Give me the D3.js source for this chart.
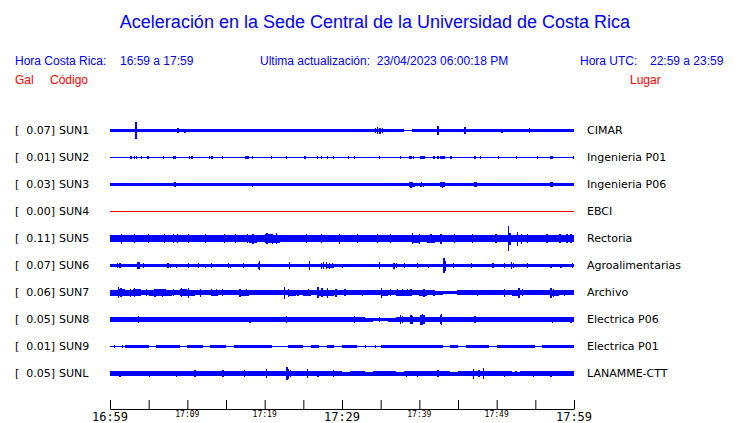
<!DOCTYPE html>
<html>
<head>
<meta charset="utf-8">
<script src="https://cdn.jsdelivr.net/npm/d3@7"></script>
<style>
  body { margin: 0; background: #fff; }
  svg { display: block; }
</style>
</head>
<body>
<div id="chart"></div>
<script>
// stations, peak acceleration and site names
const stations = ["SUN1", "SUN2", "SUN3", "SUN4", "SUN5", "SUN6", "SUN7", "SUN8", "SUN9", "SUNL"];
const peaks = [0.07, 0.01, 0.03, 0.00, 0.11, 0.07, 0.06, 0.05, 0.01, 0.05];
const places = ["CIMAR", "Ingenieria P01", "Ingenieria P06", "EBCI", "Rectoria",
  "Agroalimentarias", "Archivo", "Electrica P06", "Electrica P01", "LANAMME-CTT"];

// time axis (minutes after 16:59)
const tickMinutes = [0, 5, 10, 15, 20, 25, 30, 35, 40, 45, 50, 55, 60];
const tickLabels = [[0, "16:59", true], [10, "17:09", false], [20, "17:19", false],
  [30, "17:29", true], [40, "17:39", false], [50, "17:49", false], [60, "17:59", true]];

// per-minute amplitude envelope of each trace (relative counts)
const env1 = [14,15,16,15,16,16,15,16,16,16, 16,15,16,16,15,16,16,16,15,16, 16,15,16,16,16,15,16,16,16,15,
  16,16,15,16,17,17,16,15,5,16, 16,16,17,16,16,17,16,16,16,15, 16,16,16,15,16,16,15,16,16,16];
const env2 = [5,5,5,5,5,5,5,5,5,5, 5,5,5,5,5,5,5,5,5,5, 5,5,5,5,5,5,5,5,5,5,
  5,5,5,5,5,5,5,5,5,5, 5,5,5,5,5,5,5,5,5,5, 5,5,5,5,5,5,5,5,5,5];
const env3 = [14,14,13,14,14,14,13,14,14,14, 14,14,13,14,14,14,14,13,14,14, 14,14,14,13,14,14,14,14,14,13,
  14,14,14,14,13,14,14,14,14,14, 14,13,14,14,14,14,14,14,13,14, 14,14,14,14,13,14,14,14,14,14];
const env4 = [0,0,0,0,0,0,0,0,0,0, 0,0,0,0,0,0,0,0,0,0, 0,0,0,0,0,0,0,0,0,0,
  0,0,0,0,0,0,0,0,0,0, 0,0,0,0,0,0,0,0,0,0, 0,0,0,0,0,0,0,0,0,0];
const env5 = [34,36,34,35,33,32,33,35,38,36, 35,33,36,34,33,35,34,36,40,38, 42,40,35,34,36,38,34,33,35,36,
  33,32,33,34,33,32,34,35,33,40, 38,40,38,37,34,35,37,36,33,34, 34,38,36,35,34,33,34,35,34,36];
const env6 = [17,18,17,19,18,17,16,18,17,17, 18,17,17,18,16,17,17,18,17,18, 17,16,16,18,17,18,17,19,20,17,
  17,16,16,17,17,18,17,18,17,17, 17,17,16,18,17,16,17,17,16,17, 17,18,17,16,17,17,17,16,17,17];
const env7 = [30,32,30,32,28,30,32,30,28,32, 30,28,27,30,28,26,27,30,28,25, 26,24,28,30,26,30,28,30,30,28,
  26,24,24,25,26,30,28,30,30,28, 30,26,20,17,19,22,24,25,26,24, 28,26,30,25,24,22,28,30,25,26];
const env8 = [22,22,21,22,23,22,21,22,22,23, 22,21,22,22,21,22,22,23,22,21, 22,22,23,22,21,22,22,21,22,22,
  21,22,22,20,13,14,20,23,23,24, 24,22,22,24,22,22,21,22,23,22, 21,22,22,21,22,22,22,23,22,23];
const env9 = [5,5,11,12,11,6,11,12,11,8, 12,11,6,11,12,7,11,12,11,12, 11,8,5,11,12,6,11,6,11,6,
  11,12,5,8,8,11,12,11,12,11, 12,11,12,8,11,5,12,11,12,9, 11,12,11,12,11,8,12,11,12,11];
const envL = [24,22,22,21,22,22,23,22,22,21, 22,22,21,22,23,22,21,22,23,22, 22,22,24,23,22,22,21,22,21,22,
  20,22,21,20,22,21,22,20,22,21, 22,21,22,21,20,21,22,24,23,21, 22,21,20,21,22,21,22,21,22,22];

// short bursts on each trace: [minute, amplitude]
const bursts1 = [[3.35,87],[8.8,22],[9.7,20],[12.6,18],[17.2,19],[21.3,18],[34.3,25],[34.6,33],[34.9,30],[35.2,22],
  [42.4,45],[45.9,33],[50.7,20],[54.2,25],[56.3,18],[59.3,19]];
const bursts2 = [[2.7,12],[3.2,14],[3.4,12],[4.1,12],[4.9,13],[6.9,11],[8.2,12],[8.4,11],[10.3,11],[10.6,11],
  [12.9,12],[13.2,11],[14.5,11],[17.5,14],[17.7,15],[17.9,13],[18.4,12],[20.9,11],[22.8,13],[25.1,14],[25.3,14],
  [26.8,13],[27.3,13],[28.1,11],[28.9,11],[30.8,11],[31.6,11],[34.8,11],[37.6,13],[38.8,14],[39.0,15],[39.2,14],
  [40.2,15],[40.4,15],[40.6,14],[41.9,12],[42.4,12],[42.8,15],[43.0,15],[43.2,13],[44.1,11],[47.1,14],[47.3,14],
  [47.9,12],[50.2,11],[52.6,11],[55.3,11],[57.0,14],[57.2,14],[59.9,12]];
const bursts3 = [[8.4,21],[9.5,16],[11.5,16],[17.5,16],[18.4,20],[30.8,17],[31.6,14],[32.4,15],[37.5,17],[37.8,16],
  [38.7,25],[38.9,30],[39.1,28],[39.3,20],[40.1,20],[40.3,23],[40.5,20],[42.4,17],[42.8,27],[43.0,30],[43.2,22],
  [43.5,16],[45.4,15],[47.2,22],[47.4,23],[48.8,16],[49.9,15],[51.0,16],[51.9,15],[53.9,15],[57.0,22],[57.2,23]];
const bursts4 = [];
const bursts5 = [[1.5,50],[3.2,45],[5.0,42],[7.0,45],[8.2,48],[8.7,44],[10.1,46],[12.3,45],[14.8,46],[16.2,42],
  [17.8,48],[18.5,50],[20.3,55],[21.0,50],[21.5,55],[25.4,48],[27.3,45],[29.7,50],[32.0,45],[34.6,44],[36.3,46],
  [39.1,52],[40.0,50],[41.5,47],[42.8,50],[44.5,46],[46.9,47],[49.9,45],[51.5,123],[51.7,60],[52.7,70],[53.2,50],
  [54.0,46],[56.5,42],[58.2,44],[59.1,47],[59.6,45]];
const bursts6 = [[1.0,25],[1.3,28],[3.6,35],[3.8,33],[4.3,25],[7.5,23],[7.8,20],[8.6,20],[10.1,22],[11.4,22],
  [12.3,20],[13.1,27],[15.3,23],[15.6,20],[17.3,22],[19.2,30],[19.3,45],[21.3,18],[22.2,18],[23.2,37],[25.8,43],
  [27.3,30],[27.6,33],[28.0,35],[28.4,30],[28.8,28],[30.1,20],[34.8,32],[36.7,30],[37.0,25],[38.1,22],[39.8,23],
  [41.2,20],[43.1,60],[43.2,77],[43.4,50],[44.4,23],[46.7,22],[49.5,23],[51.0,23],[51.9,33],[52.2,25],[54.0,22],
  [57.0,20],[58.3,20],[59.8,22]];
const bursts7 = [[1.1,58],[1.4,45],[2.6,40],[3.2,42],[3.7,38],[4.7,32],[5.8,40],[6.2,38],[6.8,40],[7.1,35],
  [8.2,32],[9.2,45],[10.1,50],[11.7,40],[13.1,35],[13.8,35],[14.5,33],[16.8,40],[17.6,37],[18.7,28],[21.3,28],
  [22.6,60],[23.1,40],[24.3,30],[25.7,37],[26.9,58],[27.4,42],[28.1,50],[29.2,40],[30.4,37],[32.6,30],[35.1,50],
  [36.3,35],[37.2,37],[37.8,37],[38.5,35],[38.9,37],[40.6,40],[41.9,30],[45.0,25],[46.5,28],[47.5,30],[49.2,28],
  [51.0,40],[52.9,50],[53.3,38],[55.2,28],[57.0,50],[57.3,40],[58.8,30]];
const bursts8 = [[0.5,28],[3.7,37],[8.2,28],[10.1,28],[16.8,26],[18.1,30],[21.9,28],[22.8,33],[24.7,27],[31.6,33],
  [34.8,25],[37.6,42],[37.8,38],[38.9,45],[39.1,40],[40.2,50],[40.4,57],[40.6,45],[42.8,45],[42.9,53],[47.1,35],
  [47.3,37],[50.5,28],[53.0,27],[57.0,28],[57.2,30],[59.6,30]];
const bursts9 = [[0.6,12],[1.6,14],[3.5,13],[7.3,13],[13.0,13],[18.0,12],[24.0,13],[30.6,12],[33.0,13],[34.3,12],
  [38.0,13],[46.5,12],[52.0,13],[56.0,12],[59.5,13]];
const burstsL = [[0.2,28],[1.3,30],[2.2,28],[4.1,27],[5.1,30],[6.5,27],[7.5,27],[8.6,30],[11.0,33],[13.5,28],
  [14.6,33],[15.7,28],[17.4,37],[18.5,28],[20.2,43],[21.4,28],[22.8,55],[22.9,65],[23.1,50],[23.3,35],[25.5,45],
  [26.9,30],[28.9,35],[31.8,27],[34.2,27],[35.9,26],[38.3,30],[39.8,30],[42.4,33],[45.2,27],[47.0,50],[47.7,35],
  [48.3,57],[49.9,28],[51.0,30],[52.5,27],[54.8,30],[57.0,30],[58.5,27],[59.8,28]];

const envelopes = [env1, env2, env3, env4, env5, env6, env7, env8, env9, envL];
const burstLists = [bursts1, bursts2, bursts3, bursts4, bursts5, bursts6, bursts7, bursts8, bursts9, burstsL];

const width = 740, height = 423;
const blue = "#0000ff", red = "#ff0000";

const svg = d3.select("#chart").append("svg")
  .attr("width", width)
  .attr("height", height)
  .style("font-family", "'Liberation Sans', Arial, sans-serif");

const x = d3.scaleLinear().domain([0, 60]).range([110, 574]);
const row = d3.scalePoint().domain(stations).range([130, 373]);
const amp = d3.scaleLinear().domain([0, 100]).range([0, 10]);

// header
svg.append("text")
  .attr("x", 375).attr("y", 28)
  .attr("text-anchor", "middle")
  .attr("font-size", 18)
  .attr("fill", blue)
  .text("Aceleración en la Sede Central de la Universidad de Costa Rica");

const header = [
  [15, "Hora Costa Rica:"], [120, "16:59 a 17:59"],
  [260, "Ultima actualización:  23/04/2023 06:00:18 PM"],
  [580, "Hora UTC:"], [650, "22:59 a 23:59"]
];
svg.append("g").selectAll("text")
  .data(header)
  .enter().append("text")
  .attr("x", d => d[0]).attr("y", 65)
  .attr("font-size", 12)
  .attr("fill", blue)
  .style("white-space", "pre")
  .text(d => d[1]);

const redRow = [[15, "Gal"], [50, "Código"], [630, "Lugar"]];
svg.append("g").selectAll("text")
  .data(redRow)
  .enter().append("text")
  .attr("x", d => d[0]).attr("y", 84)
  .attr("font-size", 12)
  .attr("fill", red)
  .text(d => d[1]);

// traces
const traces = svg.append("g").attr("shape-rendering", "crispEdges");
stations.forEach((s, i) => {
  const cy = row(s);
  const color = peaks[i] === 0 ? red : blue;
  const g = traces.append("g");
  const env = envelopes[i].concat([envelopes[i][59]]);

  g.append("line")
    .attr("x1", x(0)).attr("x2", x(60))
    .attr("y1", cy + 0.5).attr("y2", cy + 0.5)
    .attr("stroke", color)
    .attr("stroke-width", 1);

  const area = d3.area()
    .x((d, j) => x(j))
    .y0(d => cy + 0.5 + amp(d))
    .y1(d => cy + 0.5 - amp(d))
    .curve(d3.curveStepAfter);

  g.append("path")
    .datum(env)
    .attr("d", area)
    .attr("fill", color);

  g.selectAll("rect")
    .data(burstLists[i])
    .enter().append("rect")
    .attr("x", d => x(d[0]) - 0.6)
    .attr("width", 1.3)
    .attr("y", d => cy + 0.5 - amp(d[1]))
    .attr("height", d => 2 * amp(d[1]))
    .attr("fill", color);

  // labels
  const lab = svg.append("g")
    .style("font-family", "'DejaVu Sans', sans-serif")
    .attr("font-size", 11)
    .attr("fill", "#000");
  lab.append("text").attr("x", 15).attr("y", cy + 4).text("[");
  lab.append("text").attr("x", 55).attr("y", cy + 4)
    .attr("text-anchor", "end").text(peaks[i].toFixed(2) + "]");
  lab.append("text").attr("x", 59).attr("y", cy + 4).text(s);
  lab.append("text").attr("x", 587).attr("y", cy + 4).text(places[i]);
});

// time axis
const axisY = 409;
svg.append("g")
  .attr("transform", `translate(0,${axisY})`)
  .call(d3.axisBottom(x)
    .tickValues(tickMinutes)
    .tickSizeInner(-9)
    .tickSizeOuter(0)
    .tickFormat(""))
  .call(g => g.selectAll("path, line").attr("stroke", "#000"));

svg.append("g").selectAll("text")
  .data(tickLabels)
  .enter().append("text")
  .attr("x", d => x(d[0]))
  .attr("y", d => d[2] ? 421 : 416.5)
  .attr("text-anchor", "middle")
  .style("font-family", "'DejaVu Sans Mono', monospace")
  .attr("font-size", d => d[2] ? 12 : 8)
  .attr("fill", "#000")
  .text(d => d[1]);
</script>
</body>
</html>
